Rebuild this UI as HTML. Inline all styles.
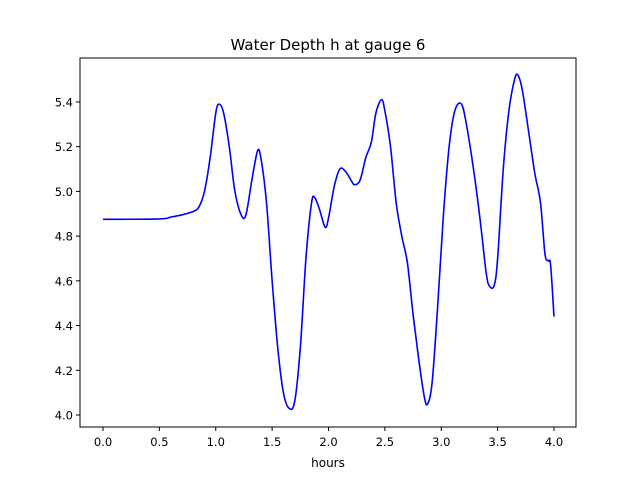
<!DOCTYPE html>
<html><head><meta charset="utf-8"><style>
html,body{margin:0;padding:0;background:#fff}
svg text{font-family:"DejaVu Sans","Liberation Sans",sans-serif;fill:#000}
</style></head><body>
<svg width="640" height="480" xmlns="http://www.w3.org/2000/svg">
<rect width="640" height="480" fill="#fff"/>
<text x="328" y="50" font-size="15" text-anchor="middle">Water Depth h at gauge 6</text>
<g id="ticks"></g>
<path id="series" fill="none" stroke="#0000ff" stroke-width="1.6" stroke-linejoin="round"/>
<rect x="80" y="58" width="496" height="369" fill="none" stroke="#000" stroke-width="1"/>
<text x="328" y="467" font-size="12" text-anchor="middle">hours</text>
</svg>
<script>
const hours=[0,0.5,0.6,0.7,0.8,0.85,0.9,0.95,1.0,1.03,1.07,1.12,1.17,1.23,1.27,1.32,1.37,1.4,1.45,1.5,1.55,1.6,1.65,1.7,1.75,1.8,1.85,1.88,1.92,1.97,2.0,2.05,2.1,2.15,2.2,2.23,2.28,2.33,2.38,2.42,2.47,2.5,2.55,2.6,2.65,2.7,2.75,2.8,2.85,2.88,2.92,2.97,3.02,3.07,3.12,3.18,3.23,3.3,3.35,3.4,3.43,3.47,3.5,3.55,3.6,3.65,3.68,3.72,3.78,3.83,3.88,3.92,3.95,3.97,4.0];
const depth=[4.875,4.877,4.885,4.895,4.91,4.93,5.0,5.15,5.35,5.39,5.35,5.2,5.0,4.89,4.9,5.05,5.18,5.15,4.95,4.6,4.3,4.1,4.03,4.06,4.3,4.7,4.95,4.97,4.92,4.84,4.88,5.02,5.1,5.09,5.05,5.03,5.05,5.15,5.22,5.35,5.41,5.36,5.2,4.95,4.8,4.68,4.45,4.25,4.08,4.05,4.15,4.5,4.9,5.2,5.36,5.39,5.28,5.05,4.85,4.63,4.575,4.58,4.7,5.1,5.36,5.5,5.52,5.45,5.25,5.08,4.95,4.72,4.69,4.67,4.44];
const xTicks=["0.0","0.5","1.0","1.5","2.0","2.5","3.0","3.5","4.0"];
const yTicks=["4.0","4.2","4.4","4.6","4.8","5.0","5.2","5.4"];
const X=v=>103+v*112.75;
const Y=v=>415-(v-4.0)*223.6;
const ns="http://www.w3.org/2000/svg";
const g=document.getElementById('ticks');
xTicks.forEach(t=>{
  const x=X(parseFloat(t));
  const l=document.createElementNS(ns,'line');
  l.setAttribute('x1',x);l.setAttribute('x2',x);l.setAttribute('y1',427);l.setAttribute('y2',431);l.setAttribute('stroke','#000');
  
  
  g.appendChild(l);
  const tx=document.createElementNS(ns,'text');
  tx.setAttribute('x',x);tx.setAttribute('y',446);tx.setAttribute('font-size','11.5');tx.setAttribute('text-anchor','middle');
  tx.textContent=t;
  
  
  g.appendChild(tx);
});
yTicks.forEach(t=>{
  const y=Y(parseFloat(t));
  const l=document.createElementNS(ns,'line');
  l.setAttribute('x1',76);l.setAttribute('x2',80);l.setAttribute('y1',y);l.setAttribute('y2',y);l.setAttribute('stroke','#000');
  
  
  g.appendChild(l);
  const tx=document.createElementNS(ns,'text');
  tx.setAttribute('x',73);tx.setAttribute('y',y+4.5);tx.setAttribute('font-size','11.5');tx.setAttribute('text-anchor','end');
  tx.textContent=t;
  
  
  g.appendChild(tx);
});
const P=hours.map((h,i)=>[X(h),Y(depth[i])]);
let d='M'+P[0][0]+','+P[0][1];
for(let i=0;i<P.length-1;i++){
  const p0=P[Math.max(i-1,0)],p1=P[i],p2=P[i+1],p3=P[Math.min(i+2,P.length-1)];
  const c1=[p1[0]+(p2[0]-p0[0])/6,p1[1]+(p2[1]-p0[1])/6];
  const c2=[p2[0]-(p3[0]-p1[0])/6,p2[1]-(p3[1]-p1[1])/6];
  d+=' C'+c1[0]+','+c1[1]+' '+c2[0]+','+c2[1]+' '+p2[0]+','+p2[1];
}
document.getElementById('series').setAttribute('d',d);
</script>
</body></html>
